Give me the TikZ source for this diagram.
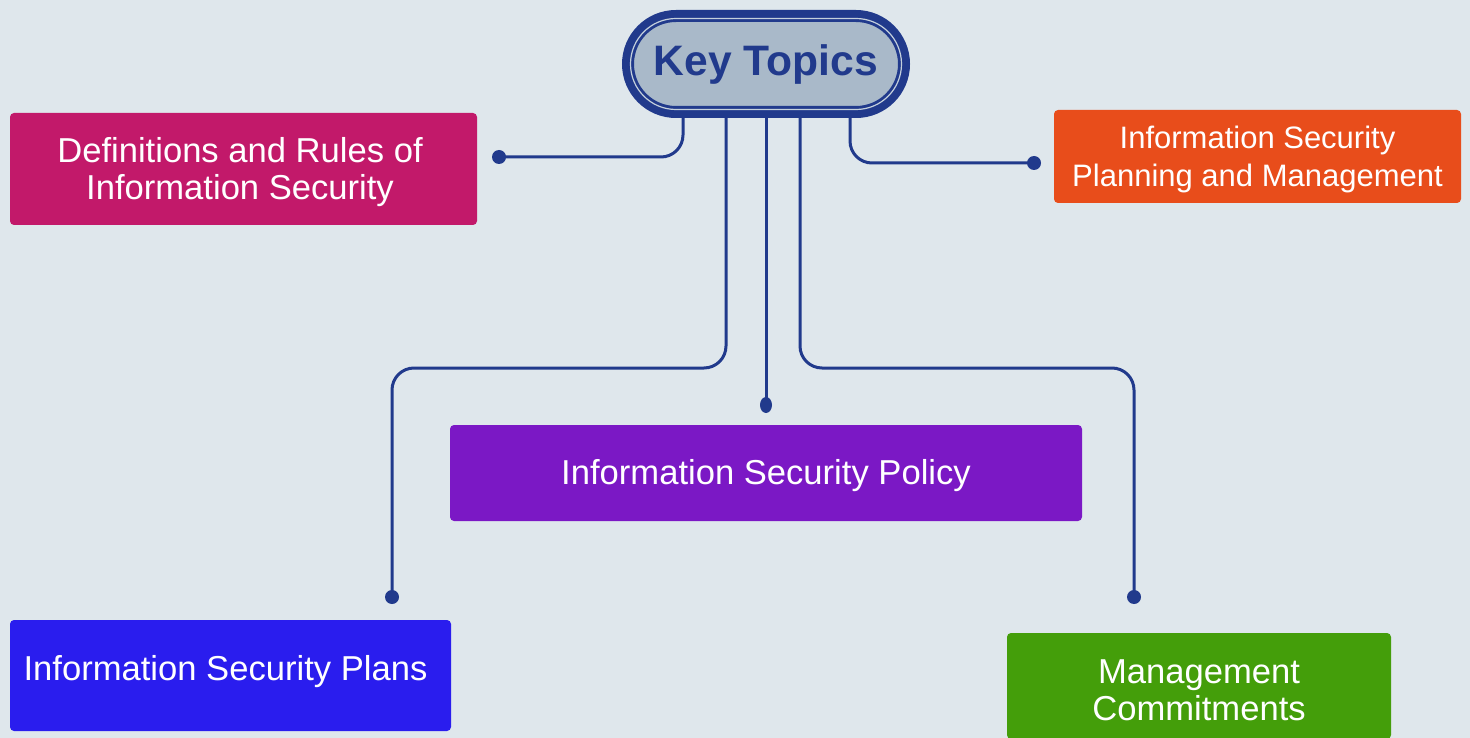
\documentclass[tikz,border=0pt]{standalone}
\usepackage{fontspec}
\usetikzlibrary{shapes.geometric}
\setmainfont{Liberation Sans}
\definecolor{bg}{HTML}{DFE7EC}
\definecolor{navy}{HTML}{213A8C}
\definecolor{pillfill}{HTML}{A9B9C9}
\definecolor{pillline}{HTML}{C4D0DC}
\definecolor{cmag}{HTML}{C2196A}
\definecolor{corange}{HTML}{E84D1B}
\definecolor{cpurple}{HTML}{7B18C5}
\definecolor{cblue}{HTML}{2A1DEE}
\definecolor{cgreen}{HTML}{449E0A}
\begin{document}
\begin{tikzpicture}[x=1pt,y=-1pt,
  topicbox/.style={rectangle, rounded corners=4pt, draw=none, text=white, align=center, inner sep=0pt},
  bigtext/.style={font=\fontsize{34.6}{37}\selectfont},
  smalltext/.style={font=\fontsize{31}{38}\selectfont},
  conn/.style={draw=navy, line width=3pt, rounded corners=22pt},
  dotend/.style={circle, fill=navy, inner sep=0pt, minimum size=14pt},
]
\useasboundingbox[fill=bg] (0,0) rectangle (1470,738);

% connector start points at the bottom of the pill
\coordinate (s1) at (683,112);
\coordinate (s2) at (726,112);
\coordinate (s3) at (766,112);
\coordinate (s4) at (800,112);
\coordinate (s5) at (850,112);

% end dots
\node[dotend] (d1) at (499,157) {};
\node[dotend] (d5) at (1034,163) {};
\node[dotend] (d2) at (392,597) {};
\node[ellipse, fill=navy, inner sep=0pt, minimum width=12pt, minimum height=16pt] (d3) at (766,405) {};
\node[dotend] (d4) at (1134,597) {};

% connectors
\draw[conn] (s1) |- (d1.center);
\draw[conn] (s5) |- (d5.center);
\draw[conn] (s2) -- (726,368) -- (392,368) -- (d2.center);
\draw[conn] (s3) -- (d3.center);
\draw[conn] (s4) -- (800,368) -- (1134,368) -- (d4.center);

% central pill
\node[draw=navy, fill=pillfill, line width=12pt, rounded corners=48pt,
      minimum width=276pt, minimum height=96pt, inner sep=0pt,
      text=navy, font=\bfseries\fontsize{42.6}{46}\selectfont] (kt) at (766,64) {Key Topics};
\draw[pillline, line width=1.2pt, rounded corners=45.5pt] (630.5,18.5) rectangle (901.5,109.5);

% topic boxes
\node[topicbox, bigtext, fill=cmag, minimum width=467pt, minimum height=112pt, text height=64pt, text depth=3pt] (defs) at (243.5,169)
  {Definitions and Rules of\kern7pt\\Information Security\kern7pt};
\node[topicbox, smalltext, fill=corange, minimum width=407pt, minimum height=93pt, text height=63pt, text depth=3pt] (plan) at (1257.5,156.5)
  {Information Security\\Planning and Management};
\node[topicbox, bigtext, fill=cpurple, minimum width=632pt, minimum height=96pt, text height=27pt, text depth=5pt] (policy) at (766,473)
  {Information Security Policy};
\node[topicbox, bigtext, fill=cblue, minimum width=441pt, minimum height=111pt, text height=24pt, text depth=15pt] (plans) at (230.5,675.5)
  {Information Security Plans\kern10pt};
\node[topicbox, bigtext, fill=cgreen, minimum width=384pt, minimum height=106pt, text height=68pt, text depth=0pt] (mgmt) at (1199,686)
  {Management\\Commitments};
\end{tikzpicture}
\end{document}
